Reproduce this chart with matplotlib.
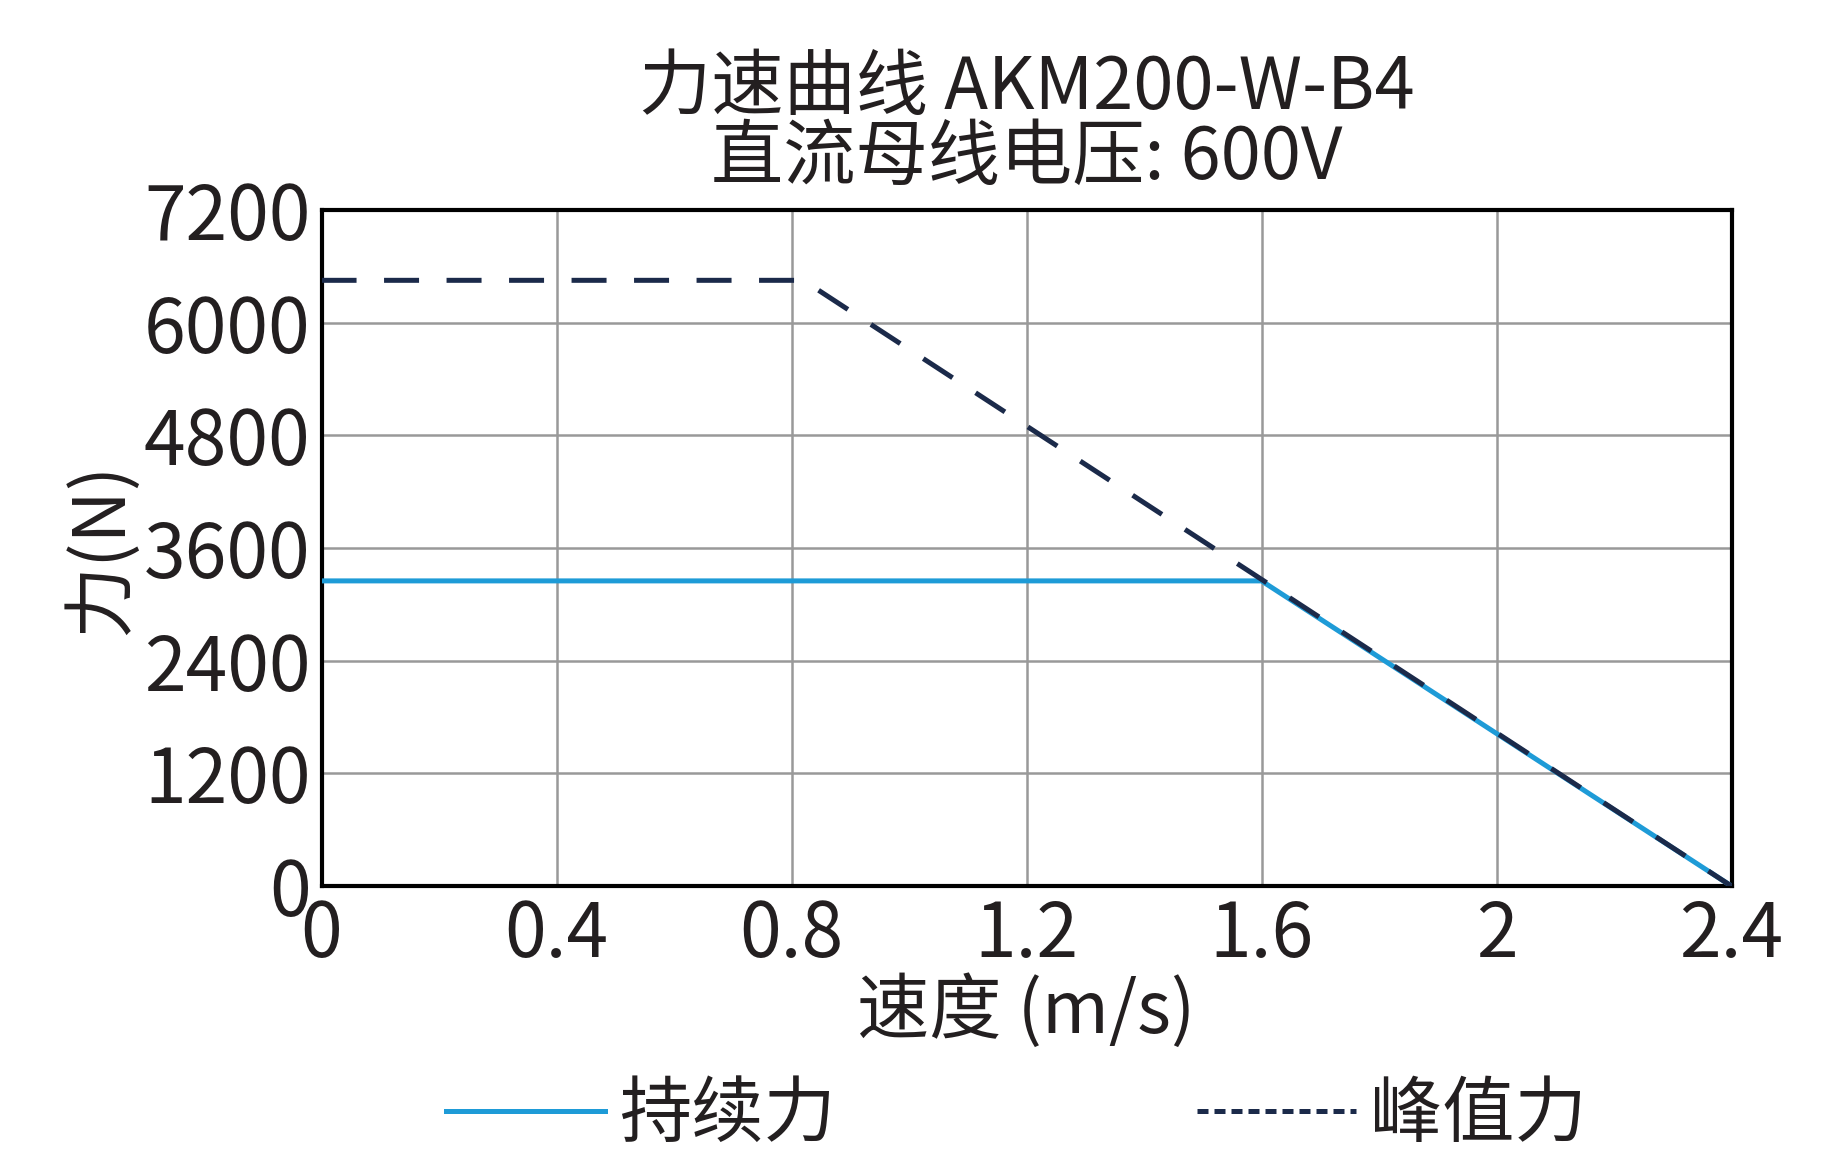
import matplotlib
matplotlib.use("Agg")
import matplotlib.pyplot as plt
from matplotlib.lines import Line2D

plt.rcParams['font.family'] = ['Noto Sans CJK SC', 'DejaVu Sans']

cont_speed = [0, 1.6, 2.4]
cont_force = [3250, 3250, 0]
peak_speed = [0, 0.82, 2.4]
peak_force = [6450, 6450, 0]

fig = plt.figure(figsize=(18.48, 11.66), dpi=100)
ax = fig.add_axes([0.174, 0.24, 0.763, 0.58])

ax.plot(cont_speed, cont_force, color='#1e9bd7', lw=3.6, zorder=3)
ax.plot(peak_speed, peak_force, color='#1b2a4a', lw=3.6, dashes=(7, 5.5), zorder=4)

ax.set_xlim(0, 2.4)
ax.set_ylim(0, 7200)
ax.set_xticks([0, 0.4, 0.8, 1.2, 1.6, 2, 2.4])
ax.set_xticklabels(['0', '0.4', '0.8', '1.2', '1.6', '2', '2.4'])
ax.set_yticks(range(0, 7201, 1200))
ax.tick_params(labelsize=54, length=0, pad=8, colors='#231f20')
ax.grid(True, color='#999999', lw=1.8)
for s in ax.spines.values():
    s.set_linewidth(3)
    s.set_color('black')

ax.set_xlabel('速度 (m/s)', fontsize=52, color='#231f20', labelpad=0)
ax.set_ylabel('力(N)', fontsize=52, color='#231f20', labelpad=4)
ax.set_title('力速曲线 AKM200-W-B4\n直流母线电压: 600V', fontsize=52,
             color='#231f20', linespacing=0.95, pad=22)

handles = [Line2D([], [], color='#1e9bd7', lw=3.6),
           Line2D([], [], color='#1b2a4a', lw=3.6, dashes=(2.2, 1.2))]
fig.legend(handles, ['持续力', '峰值力'], loc='center', bbox_to_anchor=(0.55, 0.043),
           ncol=2, frameon=False, fontsize=52, handlelength=2.2, columnspacing=5,
           handletextpad=0.2, labelcolor='#231f20')

fig.savefig('out.png', dpi=100)
